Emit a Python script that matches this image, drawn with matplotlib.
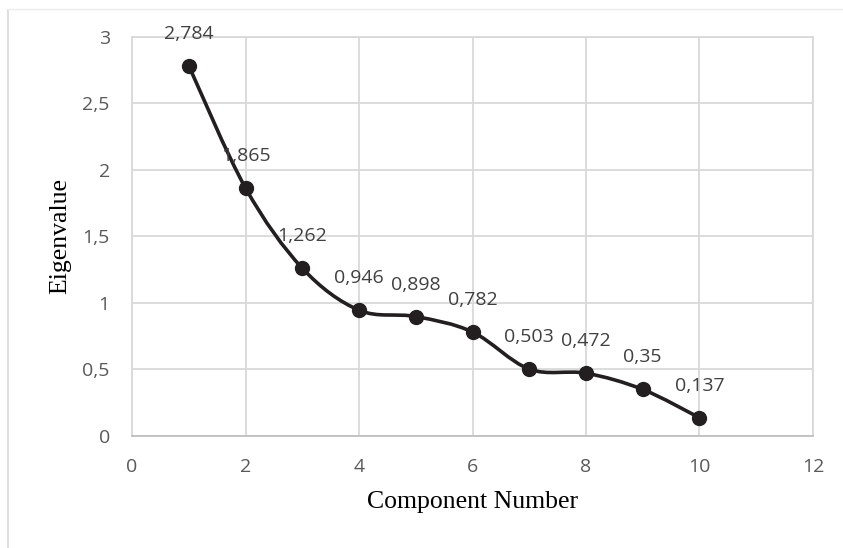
import matplotlib.pyplot as plt
import numpy as np
from matplotlib.path import Path
from matplotlib.patches import PathPatch
from matplotlib.lines import Line2D
from matplotlib.ticker import FuncFormatter, MultipleLocator

# Scree plot data
component = [1, 2, 3, 4, 5, 6, 7, 8, 9, 10]
eigenvalue = [2.784, 1.865, 1.262, 0.946, 0.898, 0.782, 0.503, 0.472, 0.35, 0.137]

tick_font = 'Open Sans'
label_font = 'Liberation Serif'
ink = '#231f20'


def comma(v, pos=None):
    return f"{v:g}".replace('.', ',')


def smooth_path(xs, ys):
    # Catmull-Rom style cubic Bezier through the points (like a spreadsheet "smoothed line")
    pts = np.column_stack([xs, ys]).astype(float)
    n = len(pts)
    verts = [pts[0]]
    codes = [Path.MOVETO]
    for i in range(n - 1):
        p0 = pts[i - 1] if i > 0 else pts[i]
        p1, p2 = pts[i], pts[i + 1]
        p3 = pts[i + 2] if i + 2 < n else pts[i + 1]
        c1 = p1 + (p2 - p0) / 6
        c2 = p2 - (p3 - p1) / 6
        verts += [c1, c2, p2]
        codes += [Path.CURVE4] * 3
    return Path(verts, codes)


fig = plt.figure(figsize=(8.43, 5.48), dpi=100)
ax = fig.add_axes([0.1566, 0.2044, 0.8078, 0.7281])

ax.set_xlim(0, 12)
ax.set_ylim(0, 3)
ax.xaxis.set_major_locator(MultipleLocator(2))
ax.yaxis.set_major_locator(MultipleLocator(0.5))
ax.xaxis.set_major_formatter(FuncFormatter(comma))
ax.yaxis.set_major_formatter(FuncFormatter(comma))

ax.grid(True, color='#d9d9d9', linewidth=1.3)
ax.set_axisbelow(True)
for side in ['top', 'right', 'left']:
    ax.spines[side].set_color('#d9d9d9')
    ax.spines[side].set_linewidth(1.3)
ax.spines['bottom'].set_color('#bfbfbf')
ax.spines['bottom'].set_linewidth(1.3)

ax.tick_params(length=0, labelsize=14, labelcolor='#595959')
ax.tick_params(axis='y', pad=16)
ax.tick_params(axis='x', pad=16)
for lab in ax.get_xticklabels() + ax.get_yticklabels():
    lab.set_fontfamily(tick_font)

# smoothed line + markers
ax.add_patch(PathPatch(smooth_path(component, eigenvalue), facecolor='none',
                       edgecolor=ink, linewidth=2.6, zorder=3))
ax.plot(component, eigenvalue, linestyle='none', marker='o', markersize=10,
        color=ink, zorder=4)

# value labels above each point
for x, y in zip(component, eigenvalue):
    ax.annotate(comma(y), (x, y), xytext=(0, 23), textcoords='offset points',
                ha='center', va='center', fontsize=14, color='#404040',
                family=tick_font, zorder=5)

ax.set_xlabel('Component Number', family=label_font, fontsize=18.5, labelpad=11)
ax.set_ylabel('Eigenvalue', family=label_font, fontsize=18.5, labelpad=8)

# faint chart-area border (left and top)
fig.add_artist(Line2D([8 / 843, 8 / 843], [0, 1 - 10 / 548], color='#d9d9d9', linewidth=1.2))
fig.add_artist(Line2D([8 / 843, 1], [1 - 9 / 548, 1 - 9 / 548], color='#ececec', linewidth=1.0))

fig.savefig('out.png', dpi=100, facecolor='white')
